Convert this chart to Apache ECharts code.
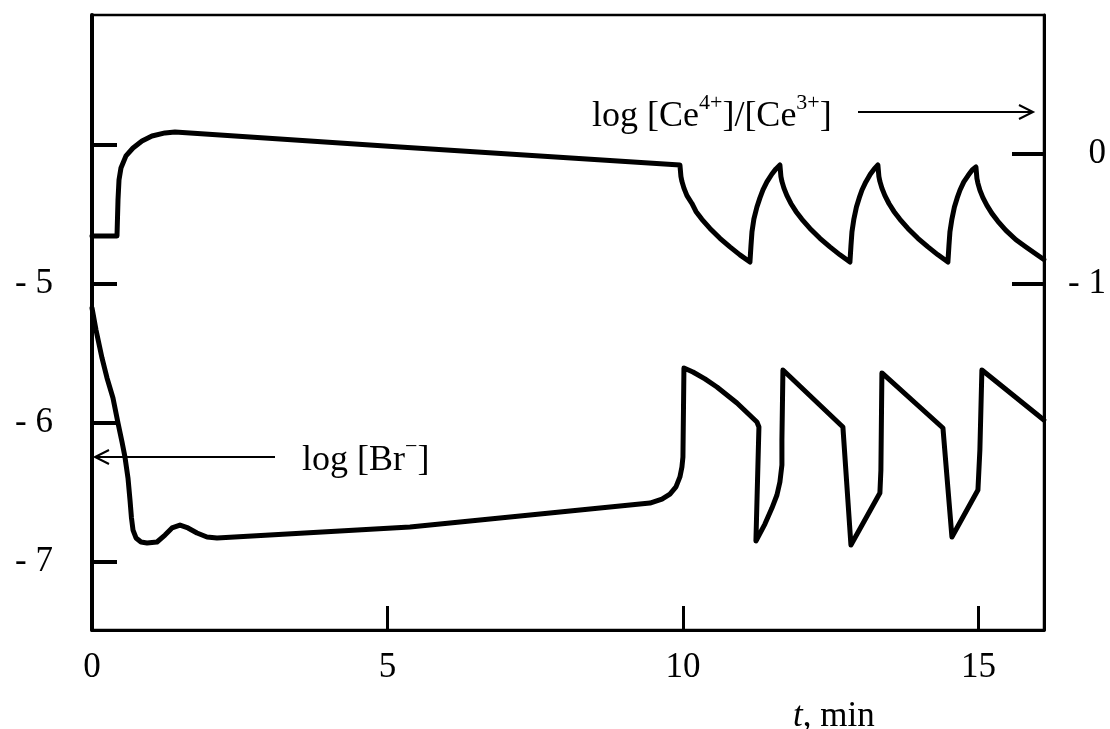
<!DOCTYPE html>
<html><head><meta charset="utf-8">
<script src="https://cdn.jsdelivr.net/npm/echarts@6/dist/echarts.min.js"></script>
<style>html,body{margin:0;padding:0;background:#fff}#c{width:1110px;height:729px}</style>
</head><body><div id="c"></div>
<script>
// time, min (Br- curve)
const timeBr = [0, 0.068, 0.169, 0.254, 0.355, 0.44, 0.508, 0.558, 0.609,
  0.643, 0.668, 0.694, 0.745, 0.829, 0.931, 1.10, 1.235, 1.354, 1.489,
  1.624, 1.777, 1.946, 2.115, 5.381, 9.442, 9.645, 9.78, 9.882, 9.949,
  9.983, 10.0, 10.017, 10.169, 10.372, 10.575, 10.914, 11.252, 11.286, 11.235,
  11.387, 11.506, 11.591, 11.641, 11.675, 11.675, 11.692, 12.707, 12.843, 13.333,
  13.35, 13.367, 14.40, 14.552, 14.992, 15.025, 15.059, 16.108];
// log [Br-]
const logBr = [-5.173, -5.331, -5.532, -5.676, -5.82, -6.0, -6.137, -6.245, -6.396,
  -6.554, -6.683, -6.770, -6.827, -6.856, -6.863, -6.856, -6.806, -6.755, -6.734,
  -6.755, -6.791, -6.820, -6.827, -6.748, -6.576, -6.547, -6.511, -6.46, -6.388,
  -6.317, -6.245, -5.604, -5.633, -5.683, -5.741, -5.856, -5.993, -6.029, -6.849,
  -6.727, -6.612, -6.518, -6.424, -6.302, -6.122, -5.619, -6.029, -6.878, -6.504,
  -6.338, -5.64, -6.036, -6.82, -6.482, -6.194, -5.619, -5.978];
// time, min (Ce curve)
const timeCe = [0, 0.423, 0.44, 0.457, 0.49, 0.575, 0.694, 0.846, 1.015, 1.235, 1.404, 5.21, 9.949,
  9.966, 9.983, 10.017, 10.068, 10.152, 10.220, 10.321, 10.457, 10.626, 10.795, 10.964, 11.134,
  11.151, 11.168, 11.201, 11.252, 11.303, 11.354, 11.421, 11.506, 11.574, 11.641,
  11.658, 11.675, 11.709, 11.760, 11.827, 11.912, 12.014, 12.149, 12.318, 12.487, 12.657, 12.826,
  12.843, 12.860, 12.893, 12.936, 12.983, 13.030, 13.095, 13.173, 13.237, 13.299,
  13.316, 13.333, 13.367, 13.418, 13.486, 13.570, 13.672, 13.807, 13.976, 14.146, 14.315, 14.484,
  14.501, 14.518, 14.552, 14.594, 14.641, 14.689, 14.753, 14.831, 14.895, 14.958,
  14.975, 14.992, 15.025, 15.076, 15.144, 15.228, 15.330, 15.465, 15.635, 15.804, 15.973, 16.108];
// log [Ce4+]/[Ce3+]
const logCe = [-0.631, -0.631, -0.354, -0.2, -0.108, -0.015, 0.046, 0.1, 0.138, 0.162, 0.169, 0.054, -0.085,
  -0.174, -0.211, -0.263, -0.321, -0.381, -0.442, -0.503, -0.573, -0.649, -0.715, -0.776, -0.831,
  -0.708, -0.6, -0.5, -0.408, -0.338, -0.277, -0.215, -0.154, -0.115, -0.085,
  -0.174, -0.211, -0.263, -0.321, -0.381, -0.442, -0.503, -0.573, -0.649, -0.715, -0.776, -0.831,
  -0.708, -0.6, -0.5, -0.408, -0.338, -0.277, -0.215, -0.154, -0.115, -0.085,
  -0.174, -0.211, -0.263, -0.321, -0.381, -0.442, -0.503, -0.573, -0.649, -0.715, -0.776, -0.831,
  -0.708, -0.6, -0.5, -0.408, -0.338, -0.277, -0.215, -0.162, -0.123, -0.1,
  -0.189, -0.226, -0.278, -0.336, -0.396, -0.457, -0.518, -0.588, -0.660, -0.715, -0.769, -0.812];

const xTickValues = [5, 10, 15];
const xLabelValues = [0, 5, 10, 15];
const brTickValues = [-7, -6, -5, -4];
const brLabelValues = [-7, -6, -5];
const ceTickValues = [-1, 0];
const ceLabelValues = [-1, 0];

const FONT = '"Liberation Serif", "DejaVu Serif", serif';
const fmtNeg = v => (v < 0 ? '- ' + Math.abs(v) : String(v));

const chart = echarts.init(document.getElementById('c'));
chart.setOption({
  animation: false,
  backgroundColor: '#fff',
  grid: { left: 92, right: 66, top: 15, bottom: 99, show: true, borderColor: '#000', borderWidth: 2.5 },
  xAxis: {
    type: 'value', min: 0, max: 16.11,
    axisLine: { show: true, onZero: false, lineStyle: { color: '#000', width: 3 } },
    axisTick: { show: true, inside: true, length: 24, customValues: xTickValues, lineStyle: { color: '#000', width: 3 } },
    axisLabel: { customValues: xLabelValues, margin: 20, color: '#000', fontFamily: FONT, fontSize: 35, formatter: v => String(v) },
    splitLine: { show: false }
  },
  yAxis: [{
    type: 'value', min: -7.489, max: -3.065, position: 'left',
    axisLine: { show: true, onZero: false, lineStyle: { color: '#000', width: 4 } },
    axisTick: { show: true, inside: true, length: 25, customValues: brTickValues, lineStyle: { color: '#000', width: 4 } },
    axisLabel: { customValues: brLabelValues, margin: 39, color: '#000', fontFamily: FONT, fontSize: 35, formatter: fmtNeg },
    splitLine: { show: false }
  }, {
    type: 'value', min: -3.662, max: 1.069, position: 'right',
    axisLine: { show: true, onZero: false, lineStyle: { color: '#000', width: 3 } },
    axisTick: { show: true, inside: true, length: 32, customValues: ceTickValues, lineStyle: { color: '#000', width: 4 } },
    axisLabel: { customValues: ceLabelValues, margin: 62, align: 'right', color: '#000', fontFamily: FONT, fontSize: 35, formatter: fmtNeg },
    splitLine: { show: false }
  }],
  series: [{
    name: 'log [Br-]', type: 'line', yAxisIndex: 0, showSymbol: false, smooth: false,
    lineStyle: { color: '#000', width: 5, cap: 'round', join: 'round' },
    data: timeBr.map((t, i) => [t, logBr[i]])
  }, {
    name: 'log [Ce4+]/[Ce3+]', type: 'line', yAxisIndex: 1, showSymbol: false, smooth: false,
    lineStyle: { color: '#000', width: 5, cap: 'round', join: 'round' },
    data: timeCe.map((t, i) => [t, logCe[i]])
  }],
  graphic: [
    { type: 'text', left: 592, top: 92, style: {
        text: '{n|log [Ce}{s|4+}{n|]/[Ce}{s|3+}{n|]}',
        rich: {
          n: { fontFamily: FONT, fontSize: 36, fill: '#000', lineHeight: 50, verticalAlign: 'middle' },
          s: { fontFamily: FONT, fontSize: 22, fill: '#000', lineHeight: 22, verticalAlign: 'top' }
        } } },
    { type: 'line', shape: { x1: 858, y1: 112, x2: 1032, y2: 112 }, style: { stroke: '#000', lineWidth: 2 } },
    { type: 'polyline', shape: { points: [[1019, 105], [1033, 112], [1019, 119]] }, style: { stroke: '#000', lineWidth: 2, fill: null } },
    { type: 'text', left: 302, top: 436, style: {
        text: '{n|log [Br}{s|−}{n|]}',
        rich: {
          n: { fontFamily: FONT, fontSize: 36, fill: '#000', lineHeight: 50, verticalAlign: 'middle' },
          s: { fontFamily: FONT, fontSize: 22, fill: '#000', lineHeight: 22, verticalAlign: 'top' }
        } } },
    { type: 'line', shape: { x1: 275, y1: 457, x2: 96, y2: 457 }, style: { stroke: '#000', lineWidth: 2 } },
    { type: 'polyline', shape: { points: [[109, 450], [95, 457], [109, 464]] }, style: { stroke: '#000', lineWidth: 2, fill: null } },
    { type: 'text', left: 793, top: 699, style: {
        text: '{i|t}{n|, min}',
        rich: {
          i: { fontFamily: FONT, fontSize: 35, fontStyle: 'italic', fill: '#000' },
          n: { fontFamily: FONT, fontSize: 35, fill: '#000' }
        } } }
  ]
});
</script>
</body></html>
